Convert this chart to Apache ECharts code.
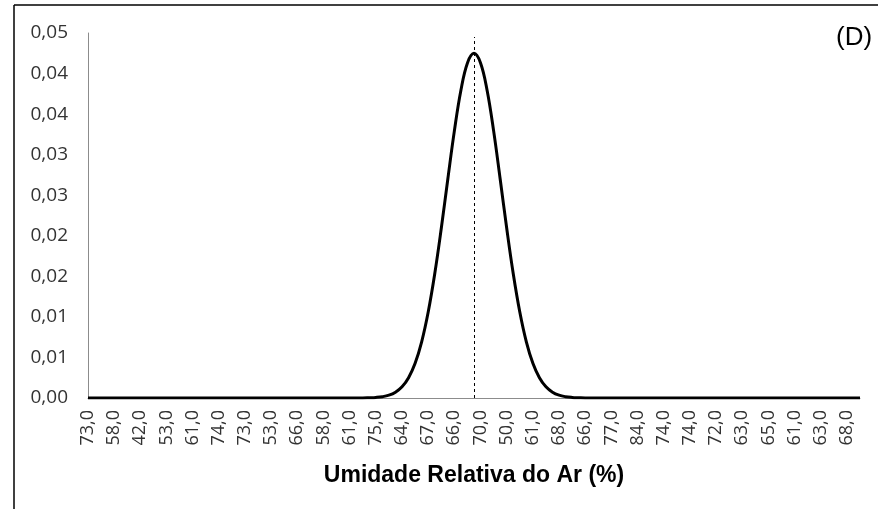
<!DOCTYPE html>
<html>
<head>
<meta charset="utf-8">
<script src="https://cdn.jsdelivr.net/npm/echarts@6/dist/echarts.min.js"></script>
<style>
html,body{margin:0;padding:0;background:#fff;}
#chart{width:878px;height:509px;}
</style>
</head>
<body>
<div id="chart"></div>
<script>
// Visible x-axis labels (every 4th category)
var xLabelsShown = ["73,0","58,0","42,0","53,0","61,0","74,0","73,0","53,0","66,0","58,0",
  "61,0","75,0","64,0","67,0","66,0","70,0","50,0","61,0","68,0","66,0",
  "77,0","84,0","74,0","74,0","72,0","63,0","65,0","61,0","63,0","68,0"];
var labelStep = 4;
// Density values (119 points)
var density = [
  0,0,0,0,0,0,0,0,0,0,
  0,0,0,0,0,0,0,0,0,0,
  0,0,0,0,0,0,0,0,0,0,
  0,0,0,0,0,0,0,0,0,0,
  0,0,0,
  0.00003,0.00007,0.00016,0.00035,0.00072,0.00138,0.00250,0.00428,0.00693,0.01060,
  0.01532,0.02092,0.02700,0.03293,0.03794,0.04131,
  0.04250,
  0.04131,0.03794,0.03293,0.02700,0.02092,0.01532,0.01060,0.00693,0.00428,0.00250,
  0.00138,0.00072,0.00035,0.00016,0.00007,0.00003,
  0,0,0,0,0,0,0,0,0,0,
  0,0,0,0,0,0,0,0,0,0,
  0,0,0,0,0,0,0,0,0,0,
  0,0,0,0,0,0,0,0,0,0,
  0,0,0
];
var meanIndex = [59];
var meanLineTop = [0.0445];
var yTickLabels = ["0,00","0,01","0,01","0,02","0,02","0,03","0,03","0,04","0,04","0,05"];
var xTitle = "Umidade Relativa do Ar (%)";
var panelTag = "(D)";

var categories = [];
for (var i = 0; i < density.length; i++) {
  categories.push(i % labelStep === 0 ? xLabelsShown[i / labelStep] : "");
}

var chart = echarts.init(document.getElementById('chart'), null, {renderer:'canvas'});
chart.setOption({
  animation: false,
  backgroundColor: '#fff',
  grid: {left: 88, right: 18, top: 33, bottom: 111, containLabel: false},
  xAxis: {
    type: 'category',
    data: categories,
    boundaryGap: false,
    axisLine: {show: true, lineStyle: {color: '#8c8c8c', width: 1}},
    axisTick: {show: false},
    splitLine: {show: false},
    axisLabel: {
      interval: labelStep - 1,
      rotate: 90,
      margin: 12,
      color: '#333',
      fontSize: 18,
      fontFamily: 'Open Sans'
    },
    name: xTitle,
    nameLocation: 'middle',
    nameGap: 66,
    nameTextStyle: {fontSize: 23, fontWeight: 'bold', color: '#000', fontFamily: 'Liberation Sans'}
  },
  yAxis: {
    type: 'value',
    min: 0,
    max: 0.045,
    interval: 0.005,
    axisLine: {show: true, lineStyle: {color: '#8c8c8c', width: 1}},
    axisTick: {show: false},
    splitLine: {show: false},
    axisLabel: {
      margin: 20,
      color: '#333',
      fontSize: 19,
      fontFamily: 'Open Sans',
      formatter: function (v) { return yTickLabels[Math.round(v / 0.005)]; }
    }
  },
  series: [{
    type: 'line',
    data: density,
    smooth: 0.4,
    showSymbol: false,
    lineStyle: {color: '#000', width: 3},
    z: 3,
    markLine: {
      silent: true,
      symbol: ['none','none'],
      label: {show: false},
      lineStyle: {color: '#000', width: 1, type: [3, 3]},
      data: [[{coord: [meanIndex[0], 0]}, {coord: [meanIndex[0], meanLineTop[0]]}]]
    }
  }],
  graphic: [
    {type: 'line', shape: {x1: 14, y1: 5, x2: 878, y2: 5}, style: {stroke: '#000', lineWidth: 1.5}},
    {type: 'line', shape: {x1: 14, y1: 5, x2: 14, y2: 509}, style: {stroke: '#000', lineWidth: 1.5}},
    {type: 'text', left: 836, top: 25, style: {text: panelTag, fontSize: 26, fontFamily: 'Liberation Sans', fill: '#000'}}
  ]
});
</script>
</body>
</html>
